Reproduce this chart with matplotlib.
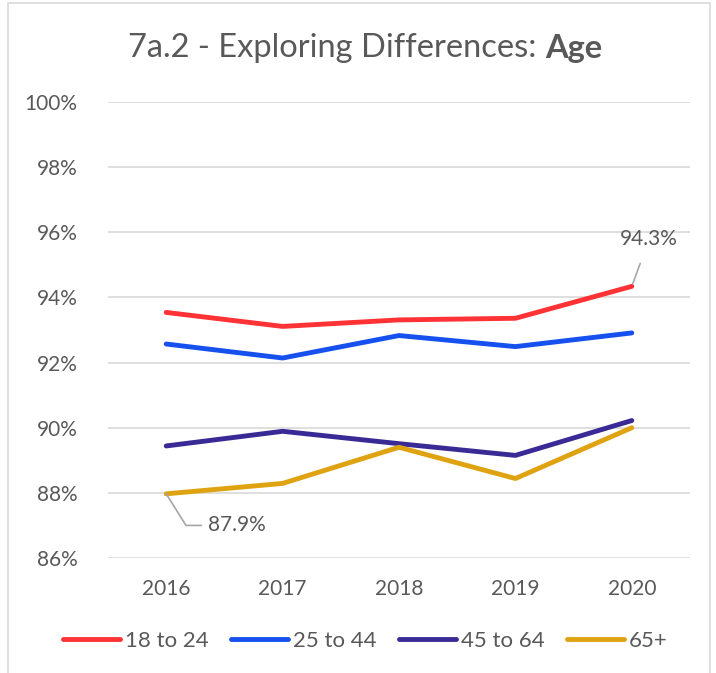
import matplotlib.pyplot as plt
from matplotlib.patches import Rectangle
from matplotlib.lines import Line2D

years = ["2016", "2017", "2018", "2019", "2020"]
age_18_24 = [93.54, 93.11, 93.31, 93.36, 94.34]
age_25_44 = [92.57, 92.14, 92.83, 92.49, 92.91]
age_45_64 = [89.44, 89.89, 89.51, 89.15, 90.22]
age_65_up = [87.97, 88.29, 89.40, 88.44, 90.00]

series = [
    ("18 to 24", age_18_24, "#FF3236"),
    ("25 to 44", age_25_44, "#1650EE"),
    ("45 to 64", age_45_64, "#3A2A95"),
    ("65+", age_65_up, "#DFA312"),
]

text_col = "#595959"
plt.rcParams["font.family"] = ["Lato", "DejaVu Sans"]

fig = plt.figure(figsize=(7.16, 6.73), dpi=100)
fig.patches.append(Rectangle((8 / 716, -0.01), 702 / 716, 1.006, transform=fig.transFigure,
                             fill=False, edgecolor="#D9D9D9", linewidth=1.2))

ax = fig.add_axes([108 / 716, 115 / 673, 582 / 716, 456 / 673])
x = list(range(len(years)))
for name, vals, col in series:
    ax.plot(x, vals, color=col, linewidth=3.5, solid_capstyle="round", label=name)

ax.set_xlim(-0.5, len(years) - 0.5)
ax.set_ylim(86, 100)
ax.set_yticks(range(86, 101, 2))
ax.set_yticklabels([f"{v}%" for v in range(86, 101, 2)])
ax.set_xticks(x)
ax.set_xticklabels(years)
ax.grid(axis="y", color="#D9D9D9", linewidth=1.2)
ax.set_axisbelow(True)
for s in ax.spines.values():
    s.set_visible(False)
ax.tick_params(length=0, labelsize=15, colors=text_col)
ax.tick_params(axis="y", pad=22)
ax.tick_params(axis="x", pad=15)

# data labels with leader lines
ax.annotate("94.3%", xy=(4, age_18_24[4]), xytext=(4.15, 95.8),
            fontsize=15, color=text_col, ha="center", va="center",
            arrowprops=dict(arrowstyle="-", color="#A6A6A6", lw=1.2,
                            shrinkA=9, shrinkB=2))
ax.plot([0, 0.17, 0.3], [age_65_up[0], 87.0, 87.0], color="#A6A6A6", lw=1.2)
ax.text(0.36, 87.0, "87.9%", fontsize=15, color=text_col, ha="left", va="center")

# title: regular part + bold part, centred as a whole
t1 = fig.text(0, 0.928, "7a.2 - Exploring Differences: ", fontsize=23.5, color=text_col,
              ha="left", va="center")
t2 = fig.text(0, 0.928, "Age", fontsize=23.5, color=text_col, fontweight="bold",
              ha="left", va="center")
r = fig.canvas.get_renderer()
w1 = t1.get_window_extent(r).width
w2 = t2.get_window_extent(r).width
x0 = 365 - (w1 + w2) / 2
t1.set_x(x0 / 716)
t2.set_x((x0 + w1) / 716)

handles = [Line2D([0], [0], color=c, lw=3.5, solid_capstyle="round") for _, _, c in series]
fig.legend(handles, [n for n, _, _ in series], loc="center", bbox_to_anchor=(0.51, 0.048),
           ncol=4, frameon=False, fontsize=16, handlelength=2.6, handletextpad=0.2,
           columnspacing=1.0, labelcolor=text_col)

fig.savefig("out.png", dpi=100)
